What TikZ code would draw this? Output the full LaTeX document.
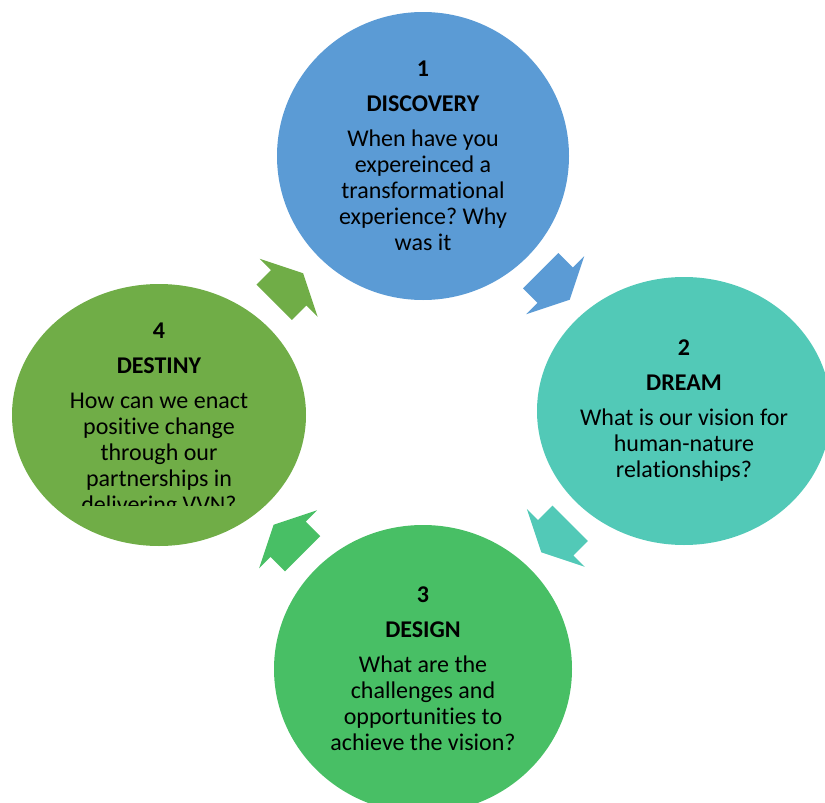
\documentclass[tikz,border=0pt]{standalone}
\usepackage{fontspec}
\setmainfont{Carlito}[Ligatures=CommonOff]
\frenchspacing
\usetikzlibrary{shapes.geometric}
\definecolor{cblue}{RGB}{91,155,213}
\definecolor{cteal}{RGB}{82,201,183}
\definecolor{cgreen}{RGB}{72,191,101}
\definecolor{colive}{RGB}{112,173,71}
\tikzset{
    bubble/.style={ellipse,inner sep=0pt},
    txt/.style={align=center,font=\fontsize{24}{26}\selectfont},
}
\begin{document}
\begin{tikzpicture}[x=1pt,y=-1pt]
            \useasboundingbox (0,0) rectangle (825,803);
            \def\gap{9pt} %extra space below number and title
            \node[bubble,fill=cblue,minimum width=292pt,minimum height=288pt] (c1) at (423,156) {};
            \node[bubble,fill=cteal,minimum width=294pt,minimum height=268pt] (c2) at (684,411) {};
            \node[bubble,fill=cgreen,minimum width=298pt,minimum height=288pt] (c3) at (423,669) {};
            \node[bubble,fill=colive,minimum width=294pt,minimum height=262pt] (c4) at (159,415) {};
            \node[txt] (t1) at (c1) {\textbf{1}\\[\gap]\textbf{DISCOVERY}\\[\gap]When have you\\expereinced a\\transformational\\experience? Why\\was it};
            \node[txt] (t2) at (c2) {\textbf{2}\\[\gap]\textbf{DREAM}\\[\gap]What is our vision for\\human-nature\\relationships?};
            \node[txt] (t3) at (c3) {\textbf{3}\\[\gap]\textbf{DESIGN}\\[\gap]What are the\\challenges and\\opportunities to\\achieve the vision?};
            \begin{scope}
                \clip (0,270) rectangle (320,505); %text box of the last bubble
                \node[txt] (t4) at ([yshift=-5pt]c4) {\textbf{4}\\[\gap]\textbf{DESTINY}\\[\gap]How can we enact\\positive change\\through our\\partnerships in\\delivering VVN?};
            \end{scope}
            \foreach \p/\q/\col/\ang in {c1/c2/cblue/-45,c2/c3/cteal/-135,c3/c4/cgreen/135,c4/c1/colive/45}{
                \path (\p) -- (\q) coordinate[midway] (m\p);
                \fill[\col,shift={(m\p)},rotate=\ang] (-20.5,-25)--(0,-25)--(0,-41)--(20.5,0)--(0,41)--(0,25)--(-20.5,25)--cycle;
            }
\end{tikzpicture}
\end{document}
